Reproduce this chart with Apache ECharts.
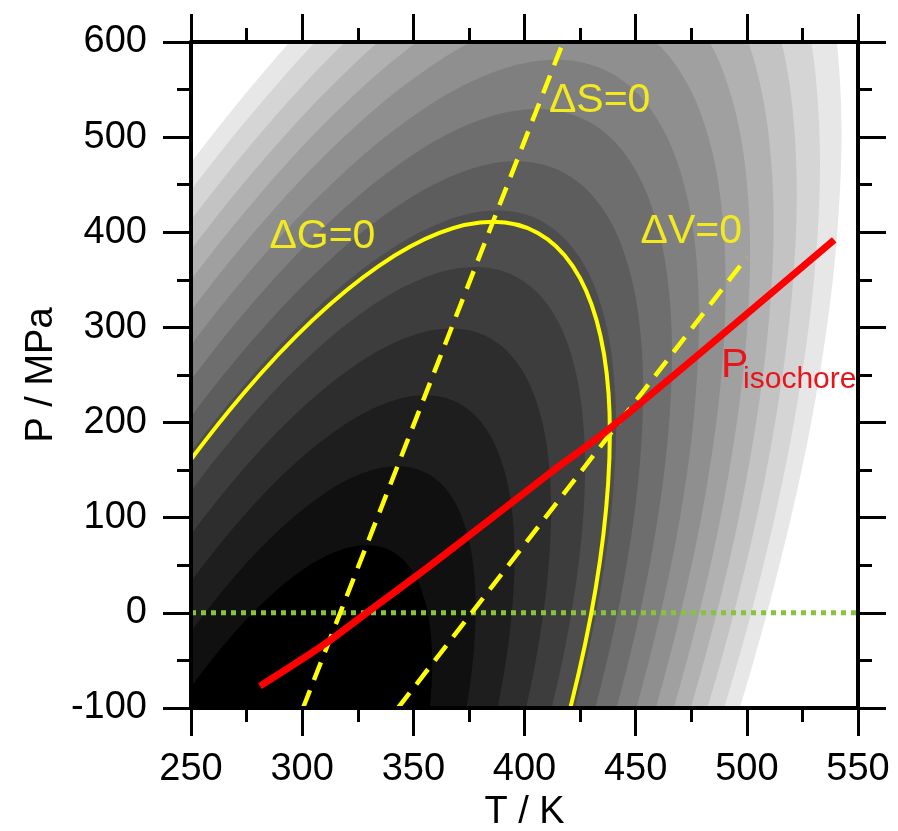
<!DOCTYPE html>
<html><head><meta charset="utf-8">
<script src="https://cdn.jsdelivr.net/npm/echarts@6.0.0/dist/echarts.min.js"></script>
<style>html,body{margin:0;padding:0;background:#fff}#chart{width:898px;height:831px}</style>
</head><body><div id="chart"></div>
<script>
// ---- axis ranges ----
const tempRange = [250, 550];
const presRange = [-100, 600];

// ---- filled-contour boundaries of dG(T,P) (T in K, P in MPa) ----
const contourLevels = [5100, 7250, 9500, 11900, 14350, 16800, 19100, 21700, 24300, 27000, 29600, 32200, 34900, 37700, 40400];
const bandColors = ['#000000','#101010','#1e1e1e','#2d2d2d','#3d3d3d','#4d4d4d','#5d5d5d','#6e6e6e','#7f7f7f','#8f8f8f','#a0a0a0','#b1b1b1','#c3c3c3','#d5d5d5','#e7e7e7'];

const contour01 = [[314.8,-434.9],[328.4,-360],[339.8,-285.1],[348.8,-212.5],[354.9,-144.4],[358.0,-82.8],[358.1,-29.6],[355.1,13.5],[349.1,45.3],[340.4,64.7],[329.1,71.3],[315.6,64.7],[300.3,45.3],[283.7,13.5],[266.3,-29.6],[248.6,-82.8],[231.2,-144.4],[214.5,-212.5],[199.2,-285.1],[185.6,-360],[174.2,-434.9]];
const contour02 = [[325.9,-449.3],[342.1,-360],[355.8,-270.7],[366.4,-184.1],[373.7,-102.9],[377.5,-29.5],[377.6,33.9],[374.0,85.3],[366.9,123.2],[356.4,146.4],[342.9,154.2],[326.8,146.4],[308.6,123.2],[288.8,85.3],[268.1,33.9],[247.0,-29.5],[226.2,-102.9],[206.4,-184.1],[188.1,-270.7],[171.9,-360],[158.2,-449.3]];
const contour03 = [[335.9,-462.2],[354.5,-360],[370.1,-257.8],[382.2,-158.7],[390.6,-65.7],[394.9,18.4],[395.0,90.9],[390.9,149.8],[382.8,193.1],[370.8,219.7],[355.4,228.6],[336.9,219.7],[316.1,193.1],[293.4,149.8],[269.7,90.9],[245.6,18.4],[221.8,-65.7],[199.1,-158.7],[178.1,-257.8],[159.5,-360],[143.9,-462.2]];
const contour04 = [[345.3,-474.4],[366.1,-360],[383.6,-245.6],[397.2,-134.7],[406.5,-30.6],[411.3,63.5],[411.4,144.6],[406.9,210.5],[397.8,259.0],[384.4,288.8],[367.1,298.8],[346.5,288.8],[323.1,259.0],[297.8,210.5],[271.2,144.6],[244.2,63.5],[217.6,-30.6],[192.1,-134.7],[168.7,-245.6],[147.9,-360],[130.4,-474.4]];
const contour05 = [[354.0,-485.6],[376.8,-360],[396.0,-234.4],[410.9,-112.6],[421.2,1.7],[426.5,105.0],[426.6,194.2],[421.6,266.5],[411.6,319.8],[396.8,352.4],[377.9,363.4],[355.2,352.4],[329.6,319.8],[301.8,266.5],[272.6,194.2],[242.9,105.0],[213.7,1.7],[185.8,-112.6],[160.0,-234.4],[137.2,-360],[118.0,-485.6]];
const contour06 = [[361.9,-495.9],[386.6,-360],[407.4,-224.1],[423.5,-92.3],[434.7,31.4],[440.4,143.1],[440.5,239.6],[435.1,317.9],[424.2,375.5],[408.3,410.9],[387.8,422.8],[363.3,410.9],[335.6,375.5],[305.5,317.9],[273.9,239.6],[241.8,143.1],[210.2,31.4],[179.9,-92.3],[152.1,-224.1],[127.4,-360],[106.6,-495.9]];
const contour07 = [[368.9,-504.9],[395.2,-360],[417.3,-215.1],[434.6,-74.5],[446.4,57.3],[452.5,176.5],[452.7,279.3],[446.9,362.8],[435.3,424.3],[418.3,461.9],[396.5,474.6],[370.3,461.9],[340.8,424.3],[308.7,362.8],[275.0,279.3],[240.8,176.5],[207.0,57.3],[174.8,-74.5],[145.1,-215.1],[118.8,-360],[96.7,-504.9]];
const contour08 = [[376.3,-514.5],[404.3,-360],[427.9,-205.5],[446.3,-55.7],[458.9,84.8],[465.4,211.8],[465.6,321.5],[459.4,410.4],[447.1,476.0],[429.0,516.1],[405.7,529.6],[377.8,516.1],[346.3,476.0],[312.1,410.4],[276.2,321.5],[239.7,211.8],[203.8,84.8],[169.4,-55.7],[137.7,-205.5],[109.7,-360],[86.1,-514.5]];
const contour09 = [[383.2,-523.5],[412.9,-360],[437.8,-196.5],[457.3,-38.0],[470.7,110.7],[477.5,245.1],[477.7,361.1],[471.2,455.3],[458.1,524.6],[439.0,567.1],[414.3,581.4],[384.8,567.1],[351.5,524.6],[315.3,455.3],[277.3,361.1],[238.7,245.1],[200.7,110.7],[164.3,-38.0],[130.8,-196.5],[101.1,-360],[76.2,-523.5]];
const contour10 = [[390.0,-532.3],[421.3,-360],[447.6,-187.7],[468.1,-20.6],[482.2,136.2],[489.5,277.9],[489.6,400.2],[482.8,499.4],[469.0,572.5],[448.8,617.2],[422.8,632.3],[391.8,617.2],[356.6,572.5],[318.4,499.4],[278.4,400.2],[237.7,277.9],[197.6,136.2],[159.3,-20.6],[124.0,-187.7],[92.7,-360],[66.4,-532.3]];
const contour11 = [[396.3,-540.4],[429.0,-360],[456.6,-179.6],[478.1,-4.6],[492.8,159.5],[500.4,307.9],[500.6,435.9],[493.4,539.8],[479.0,616.3],[457.9,663.2],[430.6,679.0],[398.1,663.2],[361.3,616.3],[321.3,539.8],[279.4,435.9],[236.8,307.9],[194.8,159.5],[154.7,-4.6],[117.7,-179.6],[85.0,-360],[57.4,-540.4]];
const contour12 = [[402.3,-548.2],[436.4,-360],[465.2,-171.8],[487.6,10.6],[502.9,181.8],[510.9,336.6],[511.1,470.1],[503.5,578.5],[488.5,658.3],[466.5,707.2],[438.1,723.7],[404.2,707.2],[365.8,658.3],[324.1,578.5],[280.4,470.1],[235.9,336.6],[192.1,181.8],[150.3,10.6],[111.7,-171.8],[77.6,-360],[48.8,-548.2]];
const contour13 = [[408.2,-555.9],[443.8,-360],[473.7,-164.1],[497.0,25.9],[513.0,204.1],[521.3,365.2],[521.5,504.2],[513.7,617.0],[498.0,700.1],[475.1,751.0],[445.5,768.2],[410.2,751.0],[370.3,700.1],[326.9,617.0],[281.3,504.2],[235.1,365.2],[189.5,204.1],[145.9,25.9],[105.8,-164.1],[70.2,-360],[40.3,-555.9]];
const contour14 = [[414.2,-563.6],[451.2,-360],[482.2,-156.4],[506.5,41.0],[523.1,226.3],[531.7,393.7],[531.9,538.2],[523.8,655.5],[507.5,741.9],[483.7,794.8],[452.9,812.6],[416.2,794.8],[374.7,741.9],[329.6,655.5],[282.3,538.2],[234.2,393.7],[186.8,226.3],[141.6,41.0],[99.8,-156.4],[62.8,-360],[31.8,-563.6]];
const contour15 = [[419.7,-570.8],[458.0,-360],[490.2,-149.2],[515.2,55.2],[532.5,246.9],[541.3,420.2],[541.6,569.8],[533.2,691.2],[516.3,780.6],[491.6,835.4],[459.8,853.8],[421.8,835.4],[378.9,780.6],[332.2,691.2],[283.2,569.8],[233.4,420.2],[184.3,246.9],[137.5,55.2],[94.3,-149.2],[56.0,-360],[23.8,-570.8]];
const contours = [contour01,contour02,contour03,contour04,contour05,contour06,contour07,contour08,contour09,contour10,contour11,contour12,contour13,contour14,contour15];

// ---- overlay curves ----
const dGzero = [[360.4,-493.9],[384.7,-360],[405.1,-226.1],[421.0,-96.3],[432.0,25.5],[437.6,135.6],[437.8,230.6],[432.4,307.7],[421.7,364.5],[406.0,399.3],[385.8,411.0],[361.7,399.3],[334.4,364.5],[304.7,307.7],[273.6,230.6],[242.0,135.6],[210.9,25.5],[181.1,-96.3],[153.6,-226.1],[129.3,-360],[108.9,-493.9]];
const dSzero = [[300.4,-100],[417.4,600]];
const dVzero = [[343.1,-100],[500.1,374]];
const isochore = [[281,-77],[309.4,-34],[329,0],[358.9,52],[411.5,147],[438.5,194],[539.3,392]];
const zeroPressure = [[250,0],[550,0]];

// ---- annotations ----
const labelTexts = ['\u0394G=0','\u0394S=0','\u0394V=0','P','isochore'];
const labelPos = [[309.1,395.1],[433.8,537.9],[475.0,400.3],[494.5,259.3],[523.8,244.6]];
const labelColors = ['#f2ea1e','#f2ea1e','#f2ea1e','#e8141c','#e8141c'];
const labelSizes = [41,41,41,41,30];

const FONT = 'Liberation Sans, Arial, Helvetica, sans-serif';
const chart = echarts.init(document.getElementById('chart'), null, {renderer:'canvas'});

const axisCommon = {
  type:'value',
  axisLine:{show:true,onZero:false,lineStyle:{color:'#000',width:4}},
  axisTick:{show:true,inside:false,length:28,lineStyle:{color:'#000',width:3}},
  minorTick:{show:true,splitNumber:2,length:14,lineStyle:{color:'#000',width:3}},
  splitLine:{show:false}, minorSplitLine:{show:false}, z:10
};

const contourOrder = contours.map((c,i)=>contours.length-1-i);

const option = {
  backgroundColor:'#ffffff',
  animation:false,
  grid:{left:191,right:40,top:42,bottom:123,containLabel:false,outerBoundsMode:'none'},
  xAxis:[
    Object.assign({}, axisCommon, {position:'bottom', min:tempRange[0], max:tempRange[1], interval:50,
      name:'T / K', nameLocation:'middle', nameGap:80,
      nameTextStyle:{fontSize:38,color:'#000',fontFamily:FONT},
      axisLabel:{margin:43,fontSize:38,color:'#000',fontFamily:FONT}}),
    Object.assign({}, axisCommon, {position:'top', min:tempRange[0], max:tempRange[1], interval:50, axisLabel:{show:false}})
  ],
  yAxis:[
    Object.assign({}, axisCommon, {position:'left', min:presRange[0], max:presRange[1], interval:100,
      name:'P / MPa', nameLocation:'middle', nameGap:130, nameRotate:90,
      nameTextStyle:{fontSize:38,color:'#000',fontFamily:FONT},
      axisLabel:{margin:44,fontSize:38,color:'#000',fontFamily:FONT}}),
    Object.assign({}, axisCommon, {position:'right', min:presRange[0], max:presRange[1], interval:100, axisLabel:{show:false}})
  ],
  series:[
    {
      type:'custom', coordinateSystem:'cartesian2d', clip:true, silent:true, z:1,
      data: contourOrder.map(i=>({value:[contourLevels[i], contourLevels[i]]})),
      renderItem:function(params, api){
        const idx = contourOrder[params.dataIndex];
        const pts = contours[idx].map(p=>api.coord(p));
        return {type:'polygon', shape:{points:pts, smooth:0.35},
          style:{fill:bandColors[idx], stroke:null}};
      }
    },
    {type:'line', data:zeroPressure, showSymbol:false, symbol:'none', z:3, silent:true,
      lineStyle:{color:'#86c440', width:5, type:[5,5]}},
    {
      type:'custom', coordinateSystem:'cartesian2d', clip:true, silent:true, z:4,
      data:[{value:[16300,16300]}],
      renderItem:function(params, api){
        const pts = dGzero.map(p=>api.coord(p));
        return {type:'polyline', shape:{points:pts, smooth:0.35},
          style:{fill:null, stroke:'#ffff00', lineWidth:4}};
      }
    },
    {type:'line', data:dSzero, showSymbol:false, symbol:'none', z:4, silent:true,
      lineStyle:{color:'#ffff00', width:4.5, type:[19,11]}},
    {type:'line', data:dVzero, showSymbol:false, symbol:'none', z:4, silent:true,
      lineStyle:{color:'#ffff00', width:4.5, type:[19,11]}},
    {type:'line', data:isochore, showSymbol:false, symbol:'none', smooth:0.3, z:5, silent:true,
      lineStyle:{color:'#ff0000', width:7, cap:'butt'}},
    {type:'scatter', silent:true, z:20, symbolSize:2, itemStyle:{color:'rgba(0,0,0,0)', opacity:1},
      emphasis:{disabled:true},
      data: labelPos.map((p,i)=>({value:p, label:{show:true, position:'inside', formatter:labelTexts[i],
        color:labelColors[i], fontSize:labelSizes[i], fontFamily:FONT,
        textBorderWidth:0, textBorderColor:'transparent', textShadowBlur:0, opacity:1}}))}
  ]
};
chart.setOption(option);
</script></body></html>
